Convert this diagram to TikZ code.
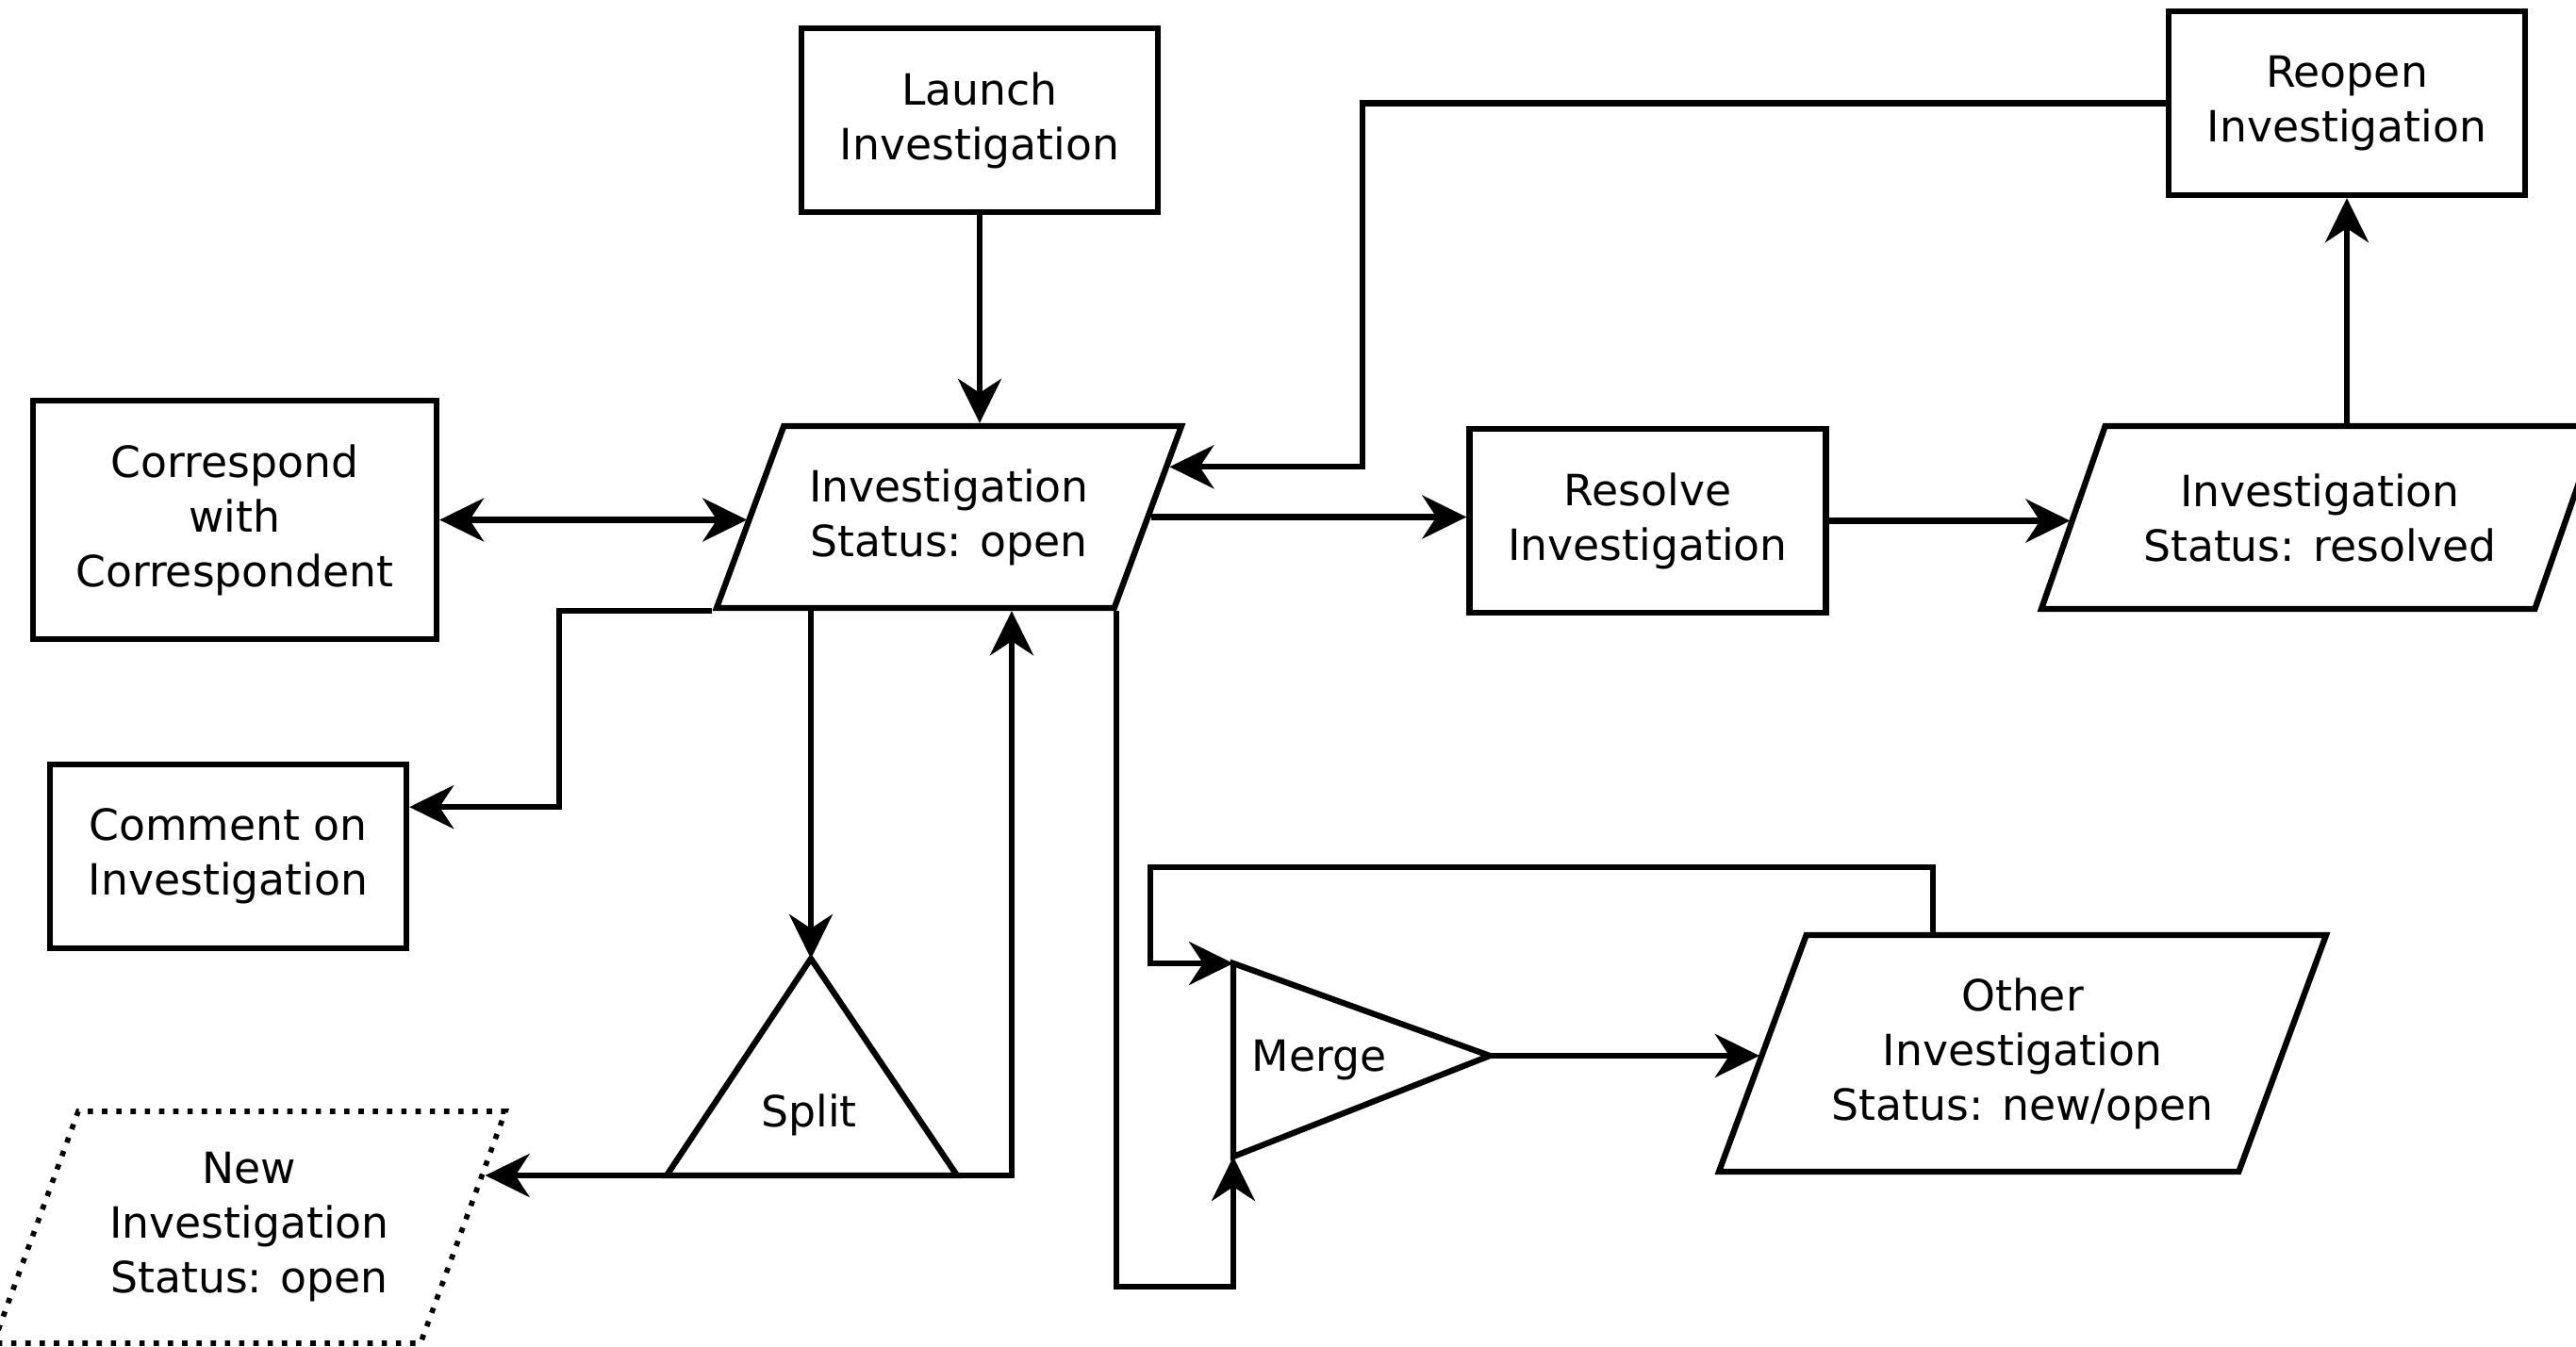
\documentclass[tikz,border=0pt]{standalone}
\usepackage{fontspec}
\setmainfont{DejaVu Sans}
\usetikzlibrary{arrows.meta,calc,shapes.geometric}

\begin{document}
\begin{tikzpicture}[
  >={Stealth[length=4.7mm,width=4.6mm,inset=1.5mm]},
  line width=1.8pt,
  every node/.style={font=\fontsize{13pt}{16.5pt}\selectfont, align=center, inner sep=2pt},
  action/.style={draw, rectangle, minimum width=3.78cm, minimum height=1.95cm},
  record/.style={draw, trapezium, trapezium left angle=#1, trapezium right angle=180-#1, trapezium stretches body},
  record/.default=58.5,
  recordnew/.style={record=#1, dash pattern=on 1.6pt off 2.7pt, line width=1.6pt}
  ]
\useasboundingbox (0,0) rectangle (27.32,-14.29);

\node[action] (launch) at (10.39,-1.275) {Launch\\Investigation};
\node[action] (reopen) at (24.89,-1.095) {Reopen\\Investigation};
\node[action, minimum width=4.28cm, minimum height=2.53cm] (corr) at (2.49,-5.515) {Correspond\\with\\Correspondent};
\node[record, minimum width=4.93cm, minimum height=1.93cm] (inv) at (10.065,-5.485) {Investigation\\Status: open};
\node[action] (resolve) at (17.475,-5.525) {Resolve\\Investigation};
\node[record=57.8, minimum width=5.91cm, minimum height=1.94cm] (resolved) at (24.605,-5.49) {Investigation\\Status: resolved};
\node[action] (comment) at (2.42,-9.085) {Comment on\\Investigation};
\node[recordnew=62.5, minimum width=5.43cm, minimum height=2.46cm] (newinv) at (2.645,-13.02) {New\\Investigation\\Status: open};
\node[record=62, minimum width=6.44cm, minimum height=2.51cm] (other) at (21.45,-11.175) {Other\\Investigation\\Status: new/open};

% split and merge
\coordinate (splittop) at (8.60,-10.17);
\coordinate (splitl) at (7.07,-12.47);
\coordinate (splitr) at (10.15,-12.47);
\draw (splittop) -- (splitl) -- (splitr) -- cycle;
\node (split) at (8.58,-11.83) {Split};

\coordinate (mergetl) at (13.08,-10.22);
\coordinate (mergebl) at (13.08,-12.27);
\coordinate (mergetip) at (15.80,-11.20);
\draw (mergetl) -- (mergetip) -- (mergebl) -- cycle;
\node (merge) at (13.99,-11.25) {Merge};

% points on the slanted sides
\coordinate (invre) at ($(inv.top right corner)!0.233!(inv.bottom right corner)$);
\coordinate (newin) at ($(newinv.top right corner)!0.276!(newinv.bottom right corner)$);
\coordinate (commentin) at ($(comment.north east)!0.24!(comment.south east)$);
\coordinate (reopenbend) at (14.45,0);
\coordinate (commentbend) at (5.93,0);
\coordinate (splitret) at (10.73,-12.47);
\coordinate (mergelow) at (0,-13.65);
\coordinate (loopr) at (20.50,-9.20);
\coordinate (loopl) at (12.20,-9.20);

\draw[->] (launch.south) -- (launch.south |- inv.top left corner);
\draw[<->] (corr.east) -- (corr.east -| inv.left side);
\draw[->] (inv.right side) -- (inv.right side -| resolve.west);
\draw[->] (resolve.east) -- (resolve.east -| resolved.left side);
\draw[->] (reopen.south |- resolved.top left corner) -- (reopen.south);
\draw[->] (reopen.west) -| (reopenbend |- invre) -- (invre);
\draw[->] (inv.bottom left corner) -- (commentbend |- inv.bottom left corner) |- (commentin);
\draw[->] (splittop |- inv.bottom left corner) -- (splittop);
\draw[->] (splitl) -- (splitl -| newin);
\draw[->] (splitr) -- (splitret) -- (splitret |- inv.bottom left corner);
\draw[->] (inv.bottom right corner) -- (inv.bottom right corner |- mergelow) -| (mergebl);
\draw[->] (loopr |- other.top left corner) -- (loopr) -- (loopl) |- (mergetl);
\draw[->] (mergetip) -- (mergetip -| other.left side);
\end{tikzpicture}
\end{document}
